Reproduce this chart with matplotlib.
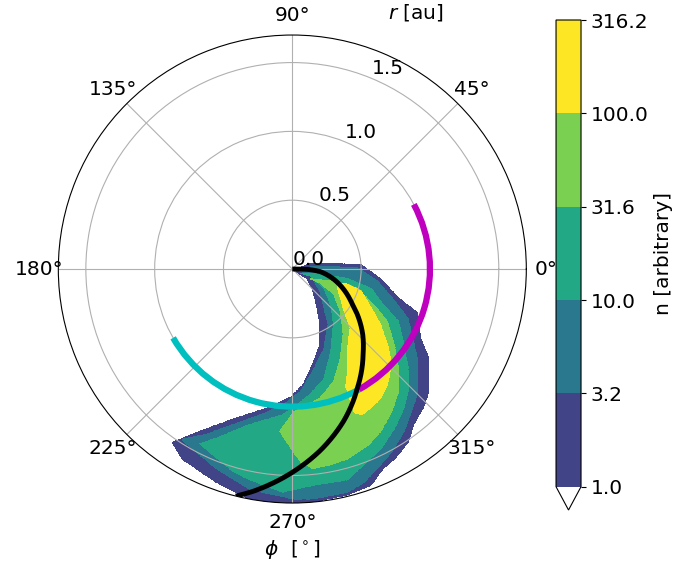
import numpy as np
import matplotlib
matplotlib.use("Agg")
import matplotlib.pyplot as plt
from matplotlib.path import Path
from matplotlib.patches import PathPatch

# density levels (log spaced) and band colours
levels = [1.0, 3.162, 10.0, 31.62, 100.0, 316.2]
band_colors = ["white", "#414487", "#2a788e", "#22a884", "#7ad151", "#fde725"]

# outlines of each density band, (x, y) in au
band_1 = [(0.01, -0.01), (0.13, 0.04), (0.28, 0.04), (0.50, 0.03), (0.64, -0.07),
          (0.77, -0.21), (0.91, -0.32), (0.93, -0.50), (0.99, -0.65), (0.99, -0.89),
          (0.96, -0.99), (0.88, -1.13), (0.84, -1.26), (0.74, -1.38), (0.66, -1.45),
          (0.57, -1.57), (0.40, -1.64), (0.15, -1.69), (0.01, -1.72), (-0.31, -1.67),
          (-0.55, -1.55), (-0.80, -1.38), (-0.87, -1.26), (-0.67, -1.18), (-0.43, -1.09),
          (-0.18, -1.01), (-0.01, -0.93), (0.08, -0.84), (0.15, -0.69), (0.20, -0.55),
          (0.20, -0.40), (0.18, -0.28), (0.15, -0.16), (0.11, -0.07)]
band_2 = [(0.04, -0.01), (0.15, 0.02), (0.47, 0.01), (0.62, -0.09), (0.74, -0.23),
          (0.84, -0.36), (0.88, -0.53), (0.91, -0.67), (0.91, -0.89), (0.88, -0.99),
          (0.81, -1.18), (0.72, -1.33), (0.64, -1.42), (0.52, -1.55), (0.40, -1.62),
          (0.15, -1.67), (0.01, -1.67), (-0.31, -1.60), (-0.55, -1.45), (-0.72, -1.31),
          (-0.80, -1.24), (-0.62, -1.20), (-0.43, -1.13), (-0.23, -1.06), (-0.07, -0.99),
          (0.06, -0.89), (0.15, -0.74), (0.23, -0.58), (0.26, -0.40), (0.23, -0.28),
          (0.20, -0.16), (0.13, -0.04)]
band_3 = [(0.06, -0.03), (0.23, -0.04), (0.40, -0.07), (0.57, -0.14), (0.66, -0.26),
          (0.77, -0.38), (0.81, -0.55), (0.84, -0.72), (0.84, -0.89), (0.81, -1.01),
          (0.74, -1.16), (0.64, -1.31), (0.52, -1.42), (0.40, -1.53), (0.15, -1.57),
          (-0.07, -1.62), (-0.31, -1.53), (-0.43, -1.47), (-0.60, -1.33), (-0.67, -1.27),
          (-0.55, -1.23), (-0.31, -1.13), (-0.07, -1.06), (0.01, -1.01), (0.13, -0.91),
          (0.23, -0.80), (0.28, -0.60), (0.30, -0.40), (0.28, -0.26), (0.23, -0.14),
          (0.13, -0.05)]
band_4 = [(0.13, -0.07), (0.30, -0.09), (0.47, -0.14), (0.59, -0.26), (0.69, -0.38),
          (0.74, -0.55), (0.77, -0.72), (0.77, -0.89), (0.72, -1.04), (0.64, -1.18),
          (0.55, -1.28), (0.40, -1.38), (0.28, -1.42), (0.15, -1.45), (0.06, -1.40),
          (-0.09, -1.18), (0.01, -1.04), (0.20, -0.94), (0.30, -0.82), (0.35, -0.65),
          (0.37, -0.47), (0.35, -0.31), (0.30, -0.18), (0.20, -0.10)]
band_5 = [(0.33, -0.10), (0.40, -0.11), (0.50, -0.16), (0.57, -0.28), (0.64, -0.40),
          (0.69, -0.55), (0.72, -0.69), (0.69, -0.84), (0.64, -0.94), (0.57, -1.01),
          (0.50, -1.06), (0.45, -1.04), (0.39, -0.85), (0.40, -0.77), (0.40, -0.60),
          (0.42, -0.43), (0.37, -0.28), (0.33, -0.14)]
bands = [band_1, band_2, band_3, band_4, band_5]

# black spiral: radius [au] and longitude [deg]
spiral_r = [0.0, 0.1, 0.2, 0.3, 0.5, 0.7, 0.8, 0.98, 1.16, 1.33, 1.51, 1.64, 1.70]
spiral_phi = [0, -1, -5, -13, -30, -43, -50, -61, -71, -81, -92, -100, -104]

# arcs at 1 au: longitude ranges [deg]
arc_r = 1.0
cyan_phi = [210, 299]
magenta_phi = [-61, 28]

# build the gridded density from the band outlines
theta = np.linspace(0, 2 * np.pi, 1081)
rad = np.linspace(0, 1.7, 511)
TH, R = np.meshgrid(theta, rad)
pts = np.column_stack([(R * np.cos(TH)).ravel(), (R * np.sin(TH)).ravel()])
lev = np.array(levels)
band_vals = np.concatenate([[lev[0] / 2], np.sqrt(lev[:-1] * lev[1:])])
idx = np.zeros(pts.shape[0], dtype=int)
for k, poly in enumerate(bands):
    idx[Path(poly).contains_points(pts)] = k + 1
n = band_vals[idx].reshape(TH.shape)

fs = 14.5
fig = plt.figure(figsize=(6.96, 5.65), dpi=100)
ax = fig.add_axes([0.0838, 0.1097, 0.6724, 0.8283], projection="polar")
cax = fig.add_axes([0.7989, 0.0973, 0.0359, 0.8673])

cf = ax.contourf(TH, R, n, levels=levels, colors=band_colors, extend="min")


def polar_curve(phi_deg, r, color, lw, z):
    # let the polar transform bend each segment (theta and r vary linearly)
    verts = np.column_stack([np.deg2rad(phi_deg), r])
    p = PathPatch(Path(verts, _interpolation_steps=60), fill=False,
                  edgecolor=color, lw=lw, capstyle="butt", zorder=z)
    ax.add_patch(p)


polar_curve(spiral_phi, spiral_r, "k", 3.5, 4)
polar_curve(cyan_phi, [arc_r, arc_r], "c", 4.5, 3)
polar_curve(magenta_phi, [arc_r, arc_r], "m", 4.5, 3)

ax.set_rlim(0, 1.7)
ax.set_rticks([0.0, 0.5, 1.0, 1.5])
ax.set_rlabel_position(67.5)
ax.tick_params(labelsize=fs)
ax.set_xlabel(r"$\phi$  [$^\circ$]", fontsize=fs)
ax.text(np.deg2rad(64.3), 2.07, r"$r$ [au]", fontsize=fs, ha="center", va="center")

cb = fig.colorbar(cf, cax=cax, ticks=levels, format="%.1f")
cb.ax.tick_params(labelsize=fs)
cb.set_label("n [arbitrary]", fontsize=fs)

fig.savefig("out.png", dpi=100)
